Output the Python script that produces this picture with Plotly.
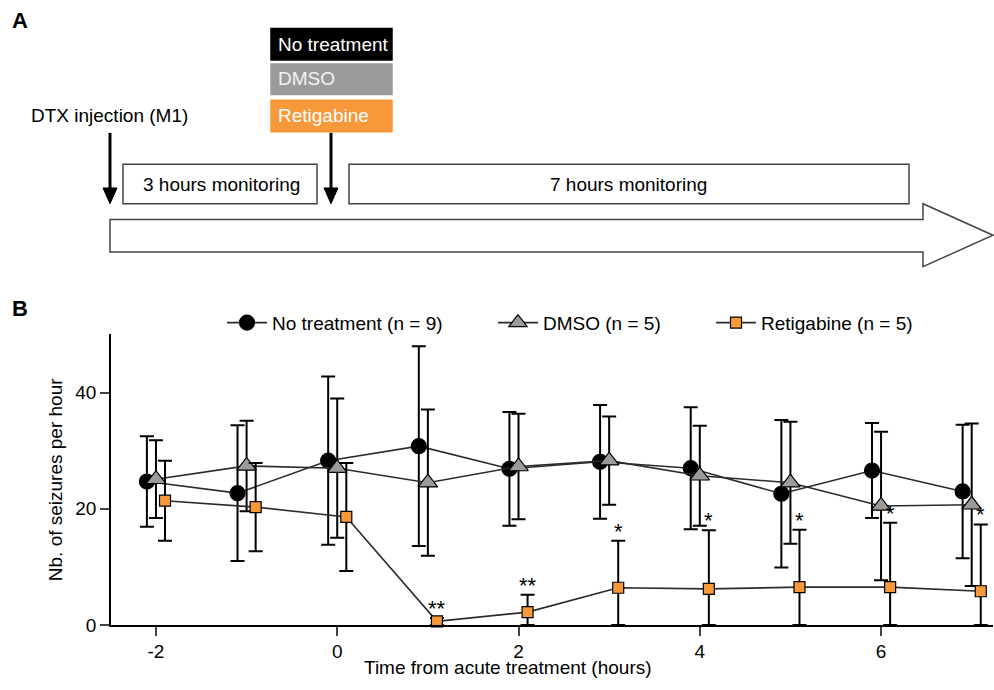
import plotly.graph_objects as go

# ---- data (panel B) ----
hours = [-2, -1, 0, 1, 2, 3, 4, 5, 6, 7]
no_treat_mean = [24.7, 22.7, 28.3, 30.8, 26.9, 28.1, 27.0, 22.6, 26.6, 23.0]
no_treat_sem = [7.8, 11.7, 14.5, 17.2, 9.8, 9.8, 10.5, 12.7, 8.2, 11.5]
dmso_mean = [25.1, 27.4, 27.0, 24.5, 27.3, 28.3, 25.7, 24.5, 20.5, 20.7]
dmso_sem = [6.7, 7.8, 12.0, 12.6, 9.1, 7.6, 8.6, 10.5, 12.8, 14.0]
retig_mean = [21.4, 20.3, 18.6, 0.6, 2.2, 6.4, 6.2, 6.5, 6.5, 5.8]
retig_sem = [6.9, 7.6, 9.3, 0.6, 3.0, 8.1, 10.1, 9.9, 11.1, 11.5]
signif = ["", "", "", "**", "**", "*", "*", "*", "*", "*"]
x_ticks = [-2, 0, 2, 4, 6]
x_ticklabels = ["-2", "0", "2", "4", "6"]

W, H = 994, 690
FONT = "Liberation Sans, Arial, sans-serif"
FS = 19
ORANGE = "#F7983A"
GRAY = "#9B9B9B"
LINE = "#2b2b2b"


def px(x):
    return x / W


def py(y):
    return 1 - y / H


def series(name, offset, mean, sem, symbol, color, size, legend):
    minus = [min(s, m) for s, m in zip(sem, mean)]
    return go.Scatter(
        x=[h + offset for h in hours], y=mean, name=name, legend=legend,
        mode="lines+markers", cliponaxis=False,
        line=dict(color=LINE, width=1.6),
        marker=dict(symbol=symbol, size=size, color=color,
                    line=dict(color="black", width=1.2)),
        error_y=dict(type="data", array=sem, arrayminus=minus,
                     color="black", thickness=2, width=7),
    )


fig = go.Figure()
fig.add_trace(series("No treatment (n = 9)", -0.1, no_treat_mean, no_treat_sem,
                     "circle", "black", 15, "legend"))
fig.add_trace(series("DMSO (n = 5)", 0.0, dmso_mean, dmso_sem,
                     "triangle-up", GRAY, 17, "legend2"))
fig.add_trace(series("Retigabine (n = 5)", 0.1, retig_mean, retig_sem,
                     "square", ORANGE, 11, "legend3"))

# significance stars above retigabine error bars
for h, m, s, txt in zip(hours, retig_mean, retig_sem, signif):
    if txt:
        fig.add_annotation(x=h + 0.1, y=m + s, text=txt, showarrow=False,
                           yanchor="bottom", yshift=-5,
                           font=dict(size=22, color="black", family=FONT))

# ---- panel A: timeline diagram (pixel layout) ----
shapes = []


def rect(x0, y0, x1, y1, fill="white", line="#444"):
    shapes.append(dict(type="rect", xref="paper", yref="paper",
                       x0=px(x0), x1=px(x1), y0=py(y1), y1=py(y0),
                       fillcolor=fill, line=dict(color=line, width=1.5)))


def path(points, fill, line="#444", width=1.5):
    d = "M " + " L ".join(f"{px(x):.5f},{py(y):.5f}" for x, y in points) + " Z"
    shapes.append(dict(type="path", xref="paper", yref="paper", path=d,
                       fillcolor=fill, line=dict(color=line, width=width)))


def down_arrow(x, y0, y1):
    shapes.append(dict(type="line", xref="paper", yref="paper",
                       x0=px(x), x1=px(x), y0=py(y0), y1=py(y1 - 14),
                       line=dict(color="black", width=3)))
    path([(x - 7, y1 - 16), (x + 7, y1 - 16), (x, y1)], "black", "black", 1)


rect(271, 29, 392, 61, fill="black", line="black")
rect(271, 65, 392, 96, fill=GRAY, line=GRAY)
rect(271, 102, 392, 134, fill=ORANGE, line=ORANGE)
rect(123, 167, 317, 207)
rect(349, 167, 909, 207)
path([(110, 223), (923, 223), (923, 207), (993, 239), (923, 271),
      (923, 256), (110, 256)], "white")
down_arrow(110, 135, 207)
down_arrow(331, 135, 207)

texts = [
    ("A", 20, 21, 22, "black", "center", True),
    ("B", 20, 313, 22, "black", "center", True),
    ("No treatment", 276, 45, FS, "white", "left", False),
    ("DMSO", 276, 80, FS, "#f2f2f2", "left", False),
    ("Retigabine", 276, 117, FS, "white", "left", False),
    ("DTX injection (M1)", 29, 117, FS, "black", "left", False),
    ("3 hours monitoring", 221, 187, FS, "black", "center", False),
    ("7 hours monitoring", 628, 187, FS, "black", "center", False),
    ("Time from acute treatment (hours)", 508, 678, FS, "black", "center", False),
]
for t, x, y, s, c, anchor, bold in texts:
    fig.add_annotation(xref="paper", yref="paper", x=px(x), y=py(y),
                       text=f"<b>{t}</b>" if bold else t, showarrow=False,
                       xanchor=anchor, yanchor="middle",
                       font=dict(size=s, color=c, family=FONT))
fig.add_annotation(xref="paper", yref="paper", x=px(55), y=py(488),
                   text="Nb. of seizures per hour", showarrow=False, textangle=-90,
                   xanchor="center", yanchor="middle",
                   font=dict(size=FS, color="black", family=FONT))


def legend_at(x):
    return dict(orientation="h", x=px(x), y=py(328), xanchor="left", yanchor="middle",
                itemwidth=40, font=dict(size=FS, family=FONT), bgcolor="rgba(0,0,0,0)")


fig.update_layout(
    width=W, height=H, margin=dict(l=0, r=0, t=0, b=0),
    paper_bgcolor="white", plot_bgcolor="white",
    font=dict(family=FONT, size=FS, color="black"),
    shapes=shapes,
    showlegend=True,
    legend=legend_at(222),
    legend2=legend_at(493),
    legend3=legend_at(711),
    xaxis=dict(domain=[px(111), px(993)], range=[-2.496, 7.235],
               tickvals=x_ticks, ticktext=x_ticklabels, ticks="outside", ticklen=9,
               tickwidth=1.5, showline=True, linecolor="black", linewidth=1.5,
               showgrid=False, zeroline=False, tickfont=dict(size=FS)),
    yaxis=dict(domain=[py(635), py(339)], range=[0, 50.2],
               tickvals=[0, 20, 40], ticks="outside", ticklen=9, tickwidth=1.5,
               showline=True, linecolor="black", linewidth=1.5, showgrid=False,
               zeroline=False, tickfont=dict(size=FS)),
)

pin_page = (
    "document.body.style.margin = '0px';"
    "document.body.style.overflow = 'hidden';"
    "var d = document.getElementById('{plot_id}');"
    "d.style.position = 'fixed'; d.style.left = '0px'; d.style.top = '0px';"
)
fig.write_html("out.html", config={"displayModeBar": False}, post_script=pin_page)
